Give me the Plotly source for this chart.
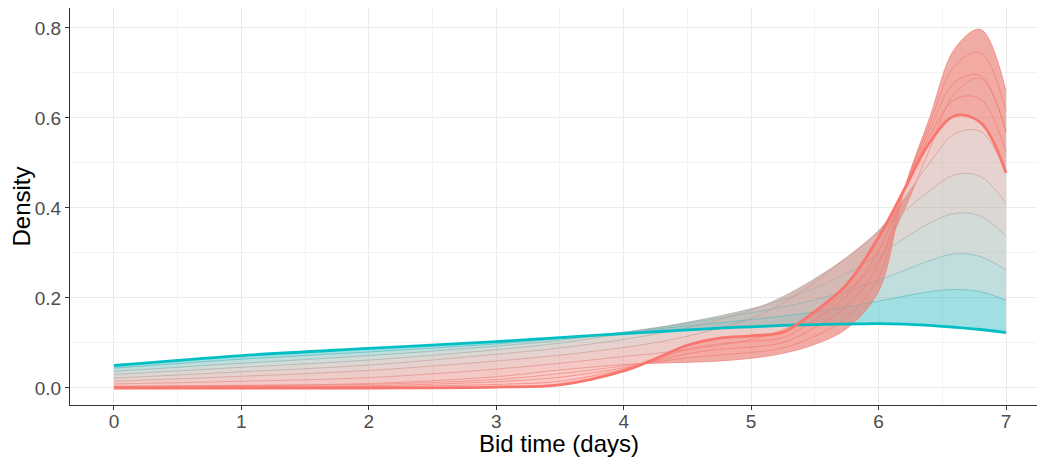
import plotly.graph_objects as go

# Bid time grid (days)
bid_time = [0, 1, 2, 3, 3.5, 4, 4.25, 4.5, 4.75, 5, 5.25, 5.5, 5.75, 6, 6.2, 6.4, 6.6, 6.8, 7]

# Family 1: flat teal curve sharpening into the tall right-skewed curve
dens_teal = [0.050, 0.072, 0.088, 0.103, 0.112, 0.121, 0.125, 0.129, 0.133, 0.136, 0.139, 0.141, 0.142, 0.143, 0.142, 0.139, 0.135, 0.130, 0.123]
dens_p1 = [0.044, 0.064, 0.080, 0.098, 0.110, 0.124, 0.131, 0.138, 0.145, 0.152, 0.160, 0.169, 0.180, 0.193, 0.204, 0.214, 0.219, 0.214, 0.195]
dens_p2 = [0.037, 0.055, 0.072, 0.093, 0.106, 0.124, 0.134, 0.144, 0.155, 0.167, 0.180, 0.196, 0.215, 0.239, 0.261, 0.283, 0.298, 0.292, 0.262]
dens_p3 = [0.030, 0.046, 0.062, 0.085, 0.100, 0.121, 0.133, 0.146, 0.160, 0.176, 0.196, 0.222, 0.255, 0.296, 0.332, 0.366, 0.388, 0.382, 0.337]
dens_p4 = [0.022, 0.036, 0.051, 0.075, 0.089, 0.108, 0.120, 0.134, 0.152, 0.173, 0.203, 0.243, 0.290, 0.345, 0.392, 0.438, 0.474, 0.470, 0.410]
dens_p5 = [0.015, 0.026, 0.039, 0.060, 0.073, 0.090, 0.101, 0.115, 0.133, 0.155, 0.189, 0.235, 0.290, 0.350, 0.420, 0.500, 0.565, 0.570, 0.480]
dens_p6 = [0.009, 0.015, 0.023, 0.042, 0.055, 0.070, 0.077, 0.085, 0.095, 0.108, 0.130, 0.165, 0.215, 0.285, 0.395, 0.530, 0.655, 0.688, 0.570]
dens_s = [0.004, 0.006, 0.010, 0.025, 0.040, 0.052, 0.055, 0.057, 0.060, 0.066, 0.077, 0.097, 0.132, 0.215, 0.440, 0.600, 0.755, 0.797, 0.660]

# Family 2: tall curve morphing into the final red curve with the bump
dens_r1 = [0.003, 0.005, 0.008, 0.019, 0.032, 0.049, 0.058, 0.067, 0.073, 0.079, 0.089, 0.115, 0.157, 0.245, 0.440, 0.586, 0.717, 0.745, 0.615]
dens_r2 = [0.002, 0.003, 0.005, 0.014, 0.024, 0.045, 0.060, 0.076, 0.086, 0.091, 0.101, 0.134, 0.181, 0.275, 0.440, 0.573, 0.680, 0.694, 0.569]
dens_r3 = [0.001, 0.002, 0.003, 0.008, 0.015, 0.042, 0.063, 0.086, 0.098, 0.104, 0.112, 0.152, 0.206, 0.305, 0.440, 0.559, 0.642, 0.642, 0.524]
dens_red = [0.000, 0.000, 0.000, 0.002, 0.007, 0.038, 0.065, 0.095, 0.111, 0.116, 0.124, 0.170, 0.230, 0.335, 0.440, 0.545, 0.605, 0.590, 0.478]

family1 = [dens_teal, dens_p1, dens_p2, dens_p3, dens_p4, dens_p5, dens_p6, dens_s]
family1_rgb = [(0, 191, 196), (95, 186, 186), (140, 180, 176), (170, 172, 166),
               (190, 164, 157), (210, 152, 145), (226, 140, 132), (236, 130, 122)]
family2 = [dens_s, dens_r1, dens_r2, dens_r3, dens_red]
family2_rgb = [(236, 130, 122), (240, 126, 118), (243, 123, 115), (246, 120, 112), (248, 118, 109)]

x_ticks = [0, 1, 2, 3, 4, 5, 6, 7]
y_ticks = [0.0, 0.2, 0.4, 0.6, 0.8]
y_tick_text = ["0.0", "0.2", "0.4", "0.6", "0.8"]
x_title = "Bid time (days)"
y_title = "Density"

fig = go.Figure()


def rgba(c, a):
    return f"rgba({c[0]},{c[1]},{c[2]},{a})"


def add_bands(curves, cols, alpha):
    for i in range(len(curves) - 1):
        c = tuple((cols[i][k] + cols[i + 1][k]) // 2 for k in range(3))
        fig.add_trace(go.Scatter(x=bid_time, y=curves[i], mode="lines",
                                 line=dict(width=0, shape="spline"),
                                 hoverinfo="skip", showlegend=False))
        fig.add_trace(go.Scatter(x=bid_time, y=curves[i + 1], mode="lines",
                                 line=dict(width=0, shape="spline"),
                                 fill="tonexty", fillcolor=rgba(c, alpha),
                                 hoverinfo="skip", showlegend=False))


def add_lines(curves, cols, widths, alpha=0.8):
    for y, c, w in zip(curves, cols, widths):
        fig.add_trace(go.Scatter(x=bid_time, y=y, mode="lines",
                                 line=dict(color=rgba(c, alpha), width=w, shape="spline"),
                                 hoverinfo="skip", showlegend=False))


add_bands(family1, family1_rgb, 0.46)
add_lines(family1[1:], family1_rgb[1:], [1.0] * 7, 0.7)
add_bands(family2, family2_rgb, 0.4)
add_lines(family2[1:-1], family2_rgb[1:-1], [1.0] * 3, 0.7)
add_lines([dens_teal], [family1_rgb[0]], [2.8], 1.0)
add_lines([dens_red], [family2_rgb[-1]], [2.8], 1.0)

font_family = "Liberation Sans, Arial, sans-serif"
axis_common = dict(showline=True, linecolor="#333333", linewidth=1,
                   ticks="outside", ticklen=4, tickcolor="#333333", tickwidth=1,
                   showgrid=True, gridcolor="#EBEBEB", gridwidth=1,
                   zeroline=False,
                   tickfont=dict(family=font_family, size=19, color="#4D4D4D"))

fig.update_xaxes(range=[-0.345, 7.306], tickvals=x_ticks, mirror=True,
                 ticklabelstandoff=-5,
                 minor=dict(dtick=0.5, tick0=0, showgrid=True, gridcolor="#F2F2F2", gridwidth=0.6),
                 **axis_common)
fig.update_yaxes(range=[-0.0378, 0.8444], tickvals=y_ticks, ticktext=y_tick_text,
                 minor=dict(dtick=0.1, tick0=0, showgrid=True, gridcolor="#F2F2F2", gridwidth=0.6),
                 title=dict(text=y_title, standoff=1,
                            font=dict(family=font_family, size=24, color="#000000")),
                 **axis_common)

fig.add_annotation(text=x_title, xref="paper", yref="paper", x=0.502, y=-0.098,
                   xanchor="center", yanchor="middle", showarrow=False,
                   font=dict(family=font_family, size=24, color="#000000"))

fig.update_layout(width=1037, height=457,
                  margin=dict(l=62, r=0, t=0, b=60, autoexpand=False),
                  plot_bgcolor="white", paper_bgcolor="white",
                  showlegend=False)

fig.write_html("out.html")
